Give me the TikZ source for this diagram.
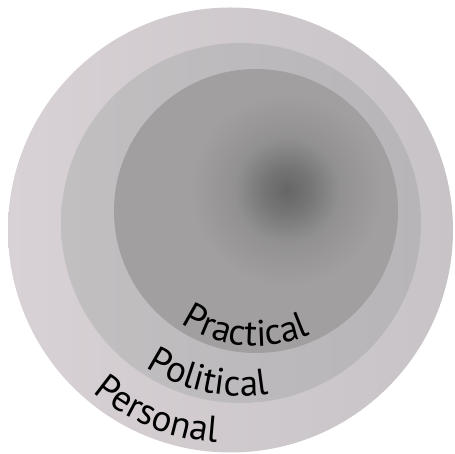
\documentclass[tikz,border=0pt]{standalone}
\usepackage{fontspec}
\setmainfont{PT Sans}
\usepackage{xcolor}
\usetikzlibrary{decorations.text}
\definecolor{outerleft}{HTML}{D8D1D5}
\definecolor{outerright}{HTML}{C7C3C6}
\definecolor{midleft}{HTML}{C2BFC1}
\definecolor{midright}{HTML}{B7B5B8}
\definecolor{innerbase}{HTML}{A19F9F}
\definecolor{innerspot}{HTML}{666666}
\pgfdeclareradialshading{spotshade}{\pgfpoint{0bp}{0bp}}{color(0bp)=(innerspot); color(5bp)=(innerspot!75!innerbase); color(12bp)=(innerspot!25!innerbase); color(22bp)=(innerbase); color(50bp)=(innerbase)}
\newcommand{\labelfont}{\fontsize{37}{44}\selectfont}
\tikzset{
  ringlabel/.style={decorate,decoration={text along path,text align=center,text={|\labelfont|#1}}}
}

\begin{document}
\begin{tikzpicture}[x=1pt,y=1pt]
\useasboundingbox (0,0) rectangle (455,454);
% rings
\shade[left color=outerleft,right color=outerright] (230.5,224) circle (222.5pt);
\shade[left color=midleft,right color=midright] (241,231) circle (180pt);
\fill[innerbase] (256,243) circle (142pt);
\begin{scope}
\clip (256,243) circle (142pt);
\shade[shading=spotshade] (287,264) circle (110pt);
\end{scope}
% labels
\path[ringlabel=Practical] (256,243) ++(-140:135pt) arc[start angle=-140,end angle=-50,radius=135pt];
\path[ringlabel=Political] (241,231) ++(-147:173pt) arc[start angle=-147,end angle=-57,radius=173pt];
\path[ringlabel=Personal] (230.5,224) ++(-152:213pt) arc[start angle=-152,end angle=-72,radius=213pt];
\end{tikzpicture}
\end{document}
